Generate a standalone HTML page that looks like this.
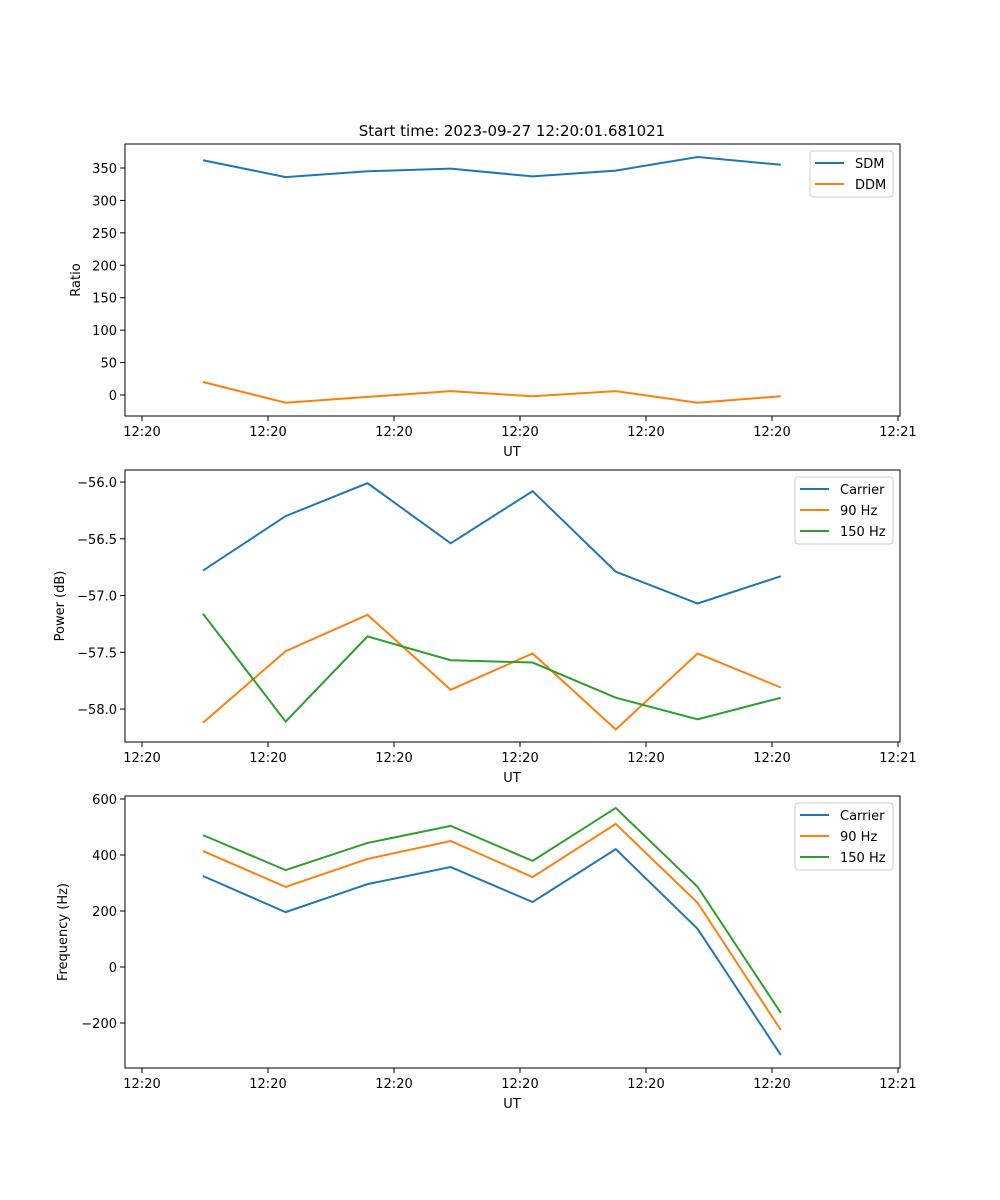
<!DOCTYPE html>
<html><head><meta charset="utf-8"><style>
body{margin:0;background:#fff}
svg{display:block;font-family:"DejaVu Sans","Liberation Sans",sans-serif}
</style></head><body>
<svg id="fig" width="1000" height="1200" viewBox="0 0 1000 1200" xmlns="http://www.w3.org/2000/svg">
<rect width="1000" height="1200" fill="#fff"/>
<text x="512" y="136" font-size="15" text-anchor="middle">Start time: 2023-09-27 12:20:01.681021</text>
</svg>
<script>
const xTickVals=[0,1,2,3,4,5,6];
const xTickLabels=["12:20","12:20","12:20","12:20","12:20","12:20","12:21"];
const xVals=[0.484,1.14,1.79,2.45,3.10,3.76,4.41,5.07];
const ratioNames=["SDM","DDM"];
const sdm=[362,336,345,349,337,346,367,355];
const ddm=[20,-12,-3,6,-2,6,-12,-2];
const ratioTicks=[0,50,100,150,200,250,300,350];
const chanNames=["Carrier","90 Hz","150 Hz"];
const powCarrier=[-56.78,-56.30,-56.01,-56.54,-56.08,-56.79,-57.07,-56.83];
const pow90=[-58.12,-57.49,-57.17,-57.83,-57.51,-58.18,-57.51,-57.81];
const pow150=[-57.16,-58.11,-57.36,-57.57,-57.59,-57.90,-58.09,-57.90];
const powTicks=[-58.0,-57.5,-57.0,-56.5,-56.0];
const freqCarrier=[325,196,296,357,232,421,136,-314];
const freq90=[414,286,386,450,321,511,229,-225];
const freq150=[471,346,443,504,379,568,286,-164];
const freqTicks=[-200,0,200,400,600];

const NS="http://www.w3.org/2000/svg";
const svg=document.getElementById('fig');
const colors=["#1f77b4","#ff7f0e","#2ca02c"];
function mk(tag,attrs,parent){const e=document.createElementNS(NS,tag);for(const k in attrs)e.setAttribute(k,attrs[k]);(parent||svg).appendChild(e);return e;}
const L=125,R=900;
const xMin=-0.135,xMax=6.016;
function xs(v){return L+(v-xMin)/(xMax-xMin)*(R-L);}
function panel(id,top,bot,yMin,yMax,ticks,fmt,ylabel,ylabelX,series,names,legend){
  const g=mk('g',{});
  
  
  const ys=v=>bot-(v-yMin)/(yMax-yMin)*(bot-top);
  series.forEach((s,i)=>{
    const p=mk('polyline',{points:s.map((v,j)=>xs(xVals[j])+','+ys(v)).join(' '),fill:'none',stroke:colors[i],'stroke-width':2},g);
    
    
  });
  const fr=mk('rect',{x:L,y:top,width:R-L,height:bot-top,fill:'none',stroke:'#000','stroke-width':1},g);
  
  
  xTickVals.forEach((v,i)=>{
    const x=xs(v);
    mk('line',{x1:x,x2:x,y1:bot,y2:bot+5,stroke:'#000'},g);
    const t=mk('text',{x:x,y:bot+20,'font-size':13,'text-anchor':'middle'},g);
    t.textContent=xTickLabels[i];
    
    
  });
  const xl=mk('text',{x:512,y:bot+40,'font-size':13,'text-anchor':'middle'},g);
  xl.textContent='UT';
  
  
  ticks.forEach(v=>{
    const y=ys(v);
    mk('line',{x1:L-5,x2:L,y1:y,y2:y,stroke:'#000'},g);
    const t=mk('text',{x:L-8,y:y+5,'font-size':13,'text-anchor':'end'},g);
    t.textContent=fmt(v);
    
    
  });
  const yl=mk('text',{x:ylabelX,y:(top+bot)/2,'font-size':13,'text-anchor':'middle',transform:'rotate(-90 '+ylabelX+' '+(top+bot)/2+')'},g);
  yl.textContent=ylabel;
  
  
  const lg=mk('g',{},g);
  
  
  mk('rect',{x:legend.x,y:top+7,width:legend.w,height:names.length*21+4,rx:3,fill:'#fff','fill-opacity':0.8,stroke:'#ccc'},lg);
  names.forEach((n,i)=>{
    const y=top+19+i*21;
    const e=mk('g',{},lg);
    
    
    mk('line',{x1:legend.x+5,x2:legend.x+34,y1:y,y2:y,stroke:colors[i],'stroke-width':2},e);
    const t=mk('text',{x:legend.x+45,y:y+5,'font-size':13},e);
    t.textContent=n;
  });
}
panel('ratio',144,416,-32.4,387,ratioTicks,v=>v<0?'−'+(-v):String(v),'Ratio',80,[sdm,ddm],ratioNames,{x:810,w:83});
panel('power',470,742,-58.29,-55.894,powTicks,v=>'−'+(-v).toFixed(1),'Power (dB)',64,[powCarrier,pow90,pow150],chanNames,{x:795,w:98});
panel('frequency',796,1068,-360.7,610.7,freqTicks,v=>v<0?'−'+(-v):String(v),'Frequency (Hz)',67,[freqCarrier,freq90,freq150],chanNames,{x:795,w:98});
</script>
</body></html>
